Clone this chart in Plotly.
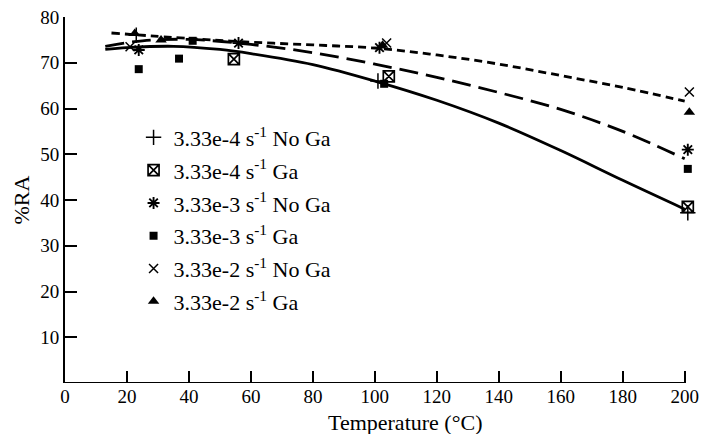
import plotly.graph_objects as go

# ---- data ----
names = ["3.33e-4 s<sup>-1</sup> No Ga", "3.33e-4 s<sup>-1</sup> Ga",
         "3.33e-3 s<sup>-1</sup> No Ga", "3.33e-3 s<sup>-1</sup> Ga",
         "3.33e-2 s<sup>-1</sup> No Ga", "3.33e-2 s<sup>-1</sup> Ga"]

t_a = [23, 101, 201]
ra_a = [76.0, 66.0, 37.2]            # 3.33e-4 No Ga (+)
t_b = [54.5, 104.5, 201]
ra_b = [70.8, 67.0, 38.5]            # 3.33e-4 Ga (boxed x)
t_c = [23.8, 56, 101.5, 201]
ra_c = [72.8, 74.3, 73.3, 51.0]      # 3.33e-3 No Ga (asterisk)
t_d = [23.8, 36.8, 41.2, 103, 201]
ra_d = [68.6, 70.9, 74.8, 65.4, 46.8]  # 3.33e-3 Ga (filled square)
t_e = [21, 103.8, 201.5]
ra_e = [73.5, 74.3, 63.6]            # 3.33e-2 No Ga (x)
t_f = [22.5, 31, 102.5, 201.5]
ra_f = [76.4, 75.0, 73.8, 59.2]      # 3.33e-2 Ga (triangle)

# fitted trend curves
fit_solid_t = [13, 20, 35, 50, 60, 80, 100, 120, 140, 160, 180, 200]
fit_solid_ra = [72.9, 73.3, 73.6, 72.9, 72.0, 69.6, 66.0, 61.8, 56.8, 50.8, 44.3, 38.0]
fit_long_t = [13, 25, 40, 60, 80, 100, 120, 140, 160, 180, 200]
fit_long_ra = [73.6, 74.8, 75.1, 74.0, 72.2, 69.7, 66.8, 63.5, 59.8, 55.0, 49.0]
fit_short_t = [15, 40, 60, 80, 100, 120, 140, 160, 180, 200]
fit_short_ra = [76.5, 75.3, 74.5, 73.9, 73.2, 71.7, 69.7, 67.2, 64.6, 61.6]

x_ticks = list(range(0, 201, 20))
y_ticks = list(range(10, 81, 10))
X_MAX_AXIS = 200
X_RANGE = [0, 203]

FONT = "Liberation Serif"

fig = go.Figure()

for tx, ty, dash in [(fit_solid_t, fit_solid_ra, "solid"),
                     (fit_long_t, fit_long_ra, "19px,8px"),
                     (fit_short_t, fit_short_ra, "8px,5px")]:
    fig.add_trace(go.Scatter(x=tx, y=ty, mode="lines", showlegend=False,
                             line=dict(color="black", width=2.8, dash=dash, shape="spline"),
                             hoverinfo="skip"))

specs = [
    (t_a, ra_a, "cross-thin-open", 11, 1.5),
    (t_b, ra_b, "square-x-open", 11, 1.7),
    (t_c, ra_c, "asterisk-open", 10, 1.9),
    (t_d, ra_d, "square", 8, 0),
    (t_e, ra_e, "x-thin-open", 9, 1.5),
    (t_f, ra_f, "triangle-up", 10, 0),
]
for i, ((tx, ty, sym, sz, lw), nm) in enumerate(zip(specs, names)):
    fig.add_trace(go.Scatter(x=tx, y=ty, mode="markers", name=nm, legendgroup=f"g{i}",
                             cliponaxis=False,
                             marker=dict(symbol=sym, size=sz, color="black",
                                         line=dict(color="black", width=lw))))

# x-axis baseline ending at the last tick
fig.add_shape(type="line", xref="x", yref="y", x0=0, x1=X_MAX_AXIS, y0=0, y1=0,
              line=dict(color="black", width=2))

fig.update_layout(
    width=705, height=434,
    margin=dict(l=65, r=6, t=17, b=51),
    paper_bgcolor="white", plot_bgcolor="white",
    font=dict(family=FONT, size=19, color="black"),
    showlegend=True,
    legend=dict(x=0.109, y=0.728, xanchor="left", yanchor="top",
                bgcolor="rgba(0,0,0,0)", font=dict(family=FONT, size=22),
                tracegroupgap=1.2, itemsizing="trace"),
    annotations=[dict(text="Temperature (°C)", xref="paper", yref="paper",
                      x=(408 - 65) / (705 - 65 - 6), y=-(423 - 383) / 366,
                      xanchor="center", yanchor="middle",
                      showarrow=False, font=dict(family=FONT, size=22))],
)
fig.update_xaxes(range=X_RANGE, tickvals=x_ticks, ticktext=[str(v) for v in x_ticks],
                 ticks="inside", ticklen=12, tickwidth=1.5, tickcolor="black",
                 showline=False, showgrid=False, zeroline=False,
                 tickfont=dict(family=FONT, size=19))
fig.update_yaxes(range=[0, 80], tickvals=y_ticks, ticktext=[str(v) for v in y_ticks],
                 ticks="inside", ticklen=12, tickwidth=1.5, tickcolor="black",
                 showline=True, linecolor="black", linewidth=2, showgrid=False, zeroline=False,
                 title=dict(text="%RA", font=dict(family=FONT, size=22), standoff=5),
                 tickfont=dict(family=FONT, size=19))

fig.write_html("out.html", config={"displayModeBar": False},
               post_script="document.body.style.margin='0';document.body.style.overflow='hidden';")
